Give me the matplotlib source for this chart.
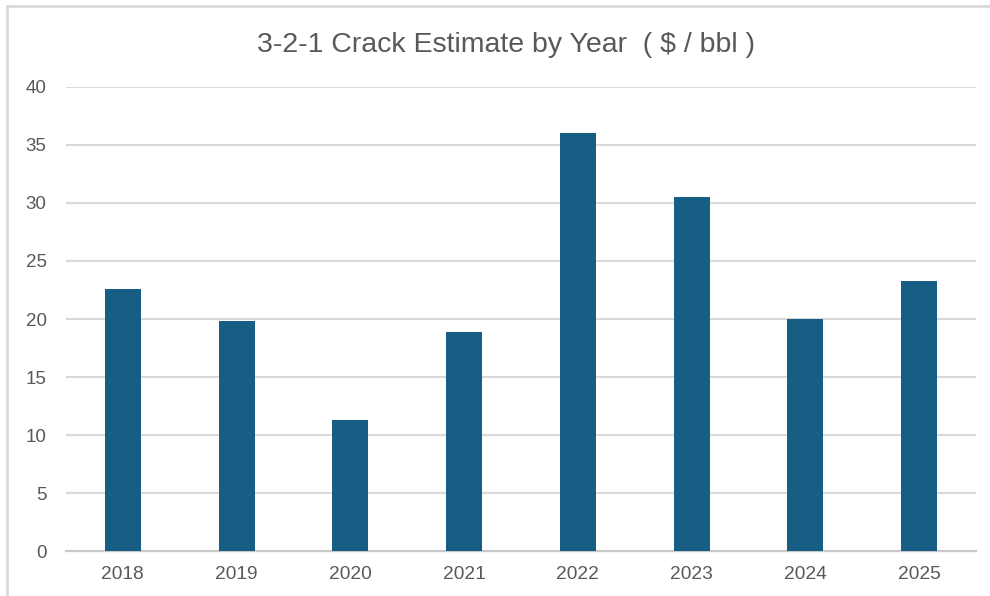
import matplotlib.pyplot as plt
from matplotlib.lines import Line2D

# crack spread estimate per year, $/bbl
years = ["2018", "2019", "2020", "2021", "2022", "2023", "2024", "2025"]
crack = [22.6, 19.8, 11.3, 18.9, 36.0, 30.5, 20.0, 23.3]
y_ticks = [0, 5, 10, 15, 20, 25, 30, 35, 40]

bar_color = "#165E83"
text_color = "#595959"
grid_color = "#D9D9D9"

plt.rcParams["font.family"] = ["Liberation Sans", "DejaVu Sans"]

fig = plt.figure(figsize=(9.9, 5.96), dpi=100)
ax = fig.add_axes([66 / 990, 45 / 596, 910 / 990, 464 / 596])

x = range(len(years))
ax.bar(x, crack, width=0.315, color=bar_color, zorder=3)

ax.set_xlim(-0.5, len(years) - 0.5)
ax.set_ylim(0, 40)
ax.set_yticks(y_ticks)
ax.set_xticks(list(x))
ax.set_xticklabels(years)

ax.yaxis.grid(True, color=grid_color, linewidth=1.5, zorder=0)
ax.set_axisbelow(True)
for side in ["top", "right", "left"]:
    ax.spines[side].set_visible(False)
ax.spines["bottom"].set_color("#C8C8C8")
ax.spines["bottom"].set_linewidth(1.6)
ax.tick_params(axis="both", length=0, colors=text_color)
ax.tick_params(axis="x", labelsize=13.8, pad=11)
ax.tick_params(axis="y", labelsize=13.5, pad=14)

fig.text(506 / 990, 1 - 45 / 596, "3-2-1 Crack Estimate by Year  ( $ / bbl )",
         ha="center", va="center", fontsize=20.5, color=text_color)

# chart frame (top and left edges)
fig.add_artist(Line2D([7 / 990, 1.0], [1 - 6 / 596, 1 - 6 / 596],
                      color=grid_color, linewidth=2, transform=fig.transFigure))
fig.add_artist(Line2D([7 / 990, 7 / 990], [0.0, 1 - 6 / 596],
                      color=grid_color, linewidth=2, transform=fig.transFigure))

fig.savefig("out.png", dpi=100)
